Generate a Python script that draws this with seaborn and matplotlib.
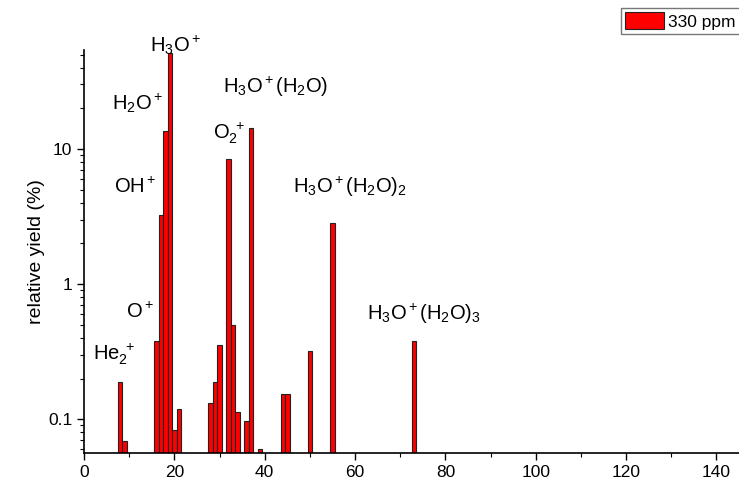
import numpy as np
import pandas as pd
import matplotlib
matplotlib.use("Agg")
import matplotlib.pyplot as plt
import matplotlib.ticker as mticker
import seaborn as sns

sns.set_style("ticks")
plt.rcParams["font.family"] = ["Liberation Sans", "DejaVu Sans"]
plt.rcParams["mathtext.fontset"] = "custom"
plt.rcParams["mathtext.rm"] = "Liberation Sans"
plt.rcParams["mathtext.it"] = "Liberation Sans"
plt.rcParams["text.color"] = "black"
plt.rcParams["axes.labelcolor"] = "black"
plt.rcParams["xtick.color"] = "black"
plt.rcParams["ytick.color"] = "black"

# ── Data ────────────────────────────────────────────────────────────
mass = [8, 9, 16, 17, 18, 19, 20, 21, 28, 29, 30, 32, 33, 34, 36, 37, 39,
        44, 45, 50, 55, 73]
rel_yield = [0.19, 0.069, 0.38, 3.25, 13.7, 51, 0.084, 0.119, 0.132, 0.19,
             0.357, 8.4, 0.50, 0.114, 0.097, 14.4, 0.060,
             0.155, 0.155, 0.32, 2.85, 0.38]
series = "330 ppm"

ion_labels = [r"$\mathregular{He_2^{\ +}}$", r"$\mathregular{O^+}$",
              r"$\mathregular{OH^+}$", r"$\mathregular{H_2O^+}$",
              r"$\mathregular{H_3O^+}$", r"$\mathregular{O_2^{\ +}}$",
              r"$\mathregular{H_3O^+(H_2O)}$",
              r"$\mathregular{H_3O^+(H_2O)_2}$",
              r"$\mathregular{H_3O^+(H_2O)_3}$"]
# label anchor (left, baseline) in data coords
label_pos = [(2.0, 0.275), (9.4, 0.56), (6.6, 4.7), (6.1, 19.5),
             (14.6, 52.5), (28.5, 12.0), (30.8, 26), (46.2, 4.7), (62.7, 0.545)]

df = pd.DataFrame({"mass": mass, "yield": rel_yield, "sample": series})

# ── Figure ──────────────────────────────────────────────────────────
W, H = 739, 486
fig = plt.figure(figsize=(W / 100, H / 100), dpi=100)
ax = fig.add_axes([84 / W, 1 - 453.3 / H, (W - 84) / W, (453.3 - 50) / H])

sns.barplot(data=df, x="mass", y="yield", hue="sample", native_scale=True,
            palette=["#ff0000"], saturation=1, edgecolor="#222222",
            linewidth=0.8, width=1.0, ax=ax)
ax.set_yscale("log")
ax.set_xlim(0, 145)
ax.set_ylim(0.056, 54)

ax.xaxis.set_major_locator(mticker.MultipleLocator(20))
ax.xaxis.set_minor_locator(mticker.MultipleLocator(10))
ax.yaxis.set_major_locator(mticker.FixedLocator([0.1, 1, 10]))
ax.yaxis.set_major_formatter(mticker.FixedFormatter(["0.1", "1", "10"]))
ax.yaxis.set_minor_locator(mticker.LogLocator(base=10, subs=np.arange(2, 10)))
ax.yaxis.set_minor_formatter(mticker.NullFormatter())
ax.tick_params(which="major", direction="out", length=5, width=1,
               labelsize=12.5, color="black", labelcolor="black")
ax.tick_params(which="minor", direction="out", length=3, width=0.8,
               color="black")

ax.set_xlabel("")
ax.set_ylabel("relative yield (%)", fontsize=14, labelpad=2)
sns.despine(ax=ax)
for s in ["left", "bottom"]:
    ax.spines[s].set_linewidth(1.2)
    ax.spines[s].set_color("black")

for lab, (lx, ly) in zip(ion_labels, label_pos):
    ax.text(lx, ly, lab, fontsize=14.5, ha="left", va="baseline",
            color="black")

leg = ax.legend(loc="upper left", bbox_to_anchor=(621 / W, 1 - 8 / H),
                bbox_transform=fig.transFigure, frameon=True, fancybox=False,
                fontsize=12.5, handlelength=2.2, handleheight=1.1,
                handletextpad=0.25, borderpad=0.25, borderaxespad=0)
leg.get_frame().set_edgecolor("#555555")
leg.get_frame().set_linewidth(1.0)

fig.savefig("out.png", dpi=100)
